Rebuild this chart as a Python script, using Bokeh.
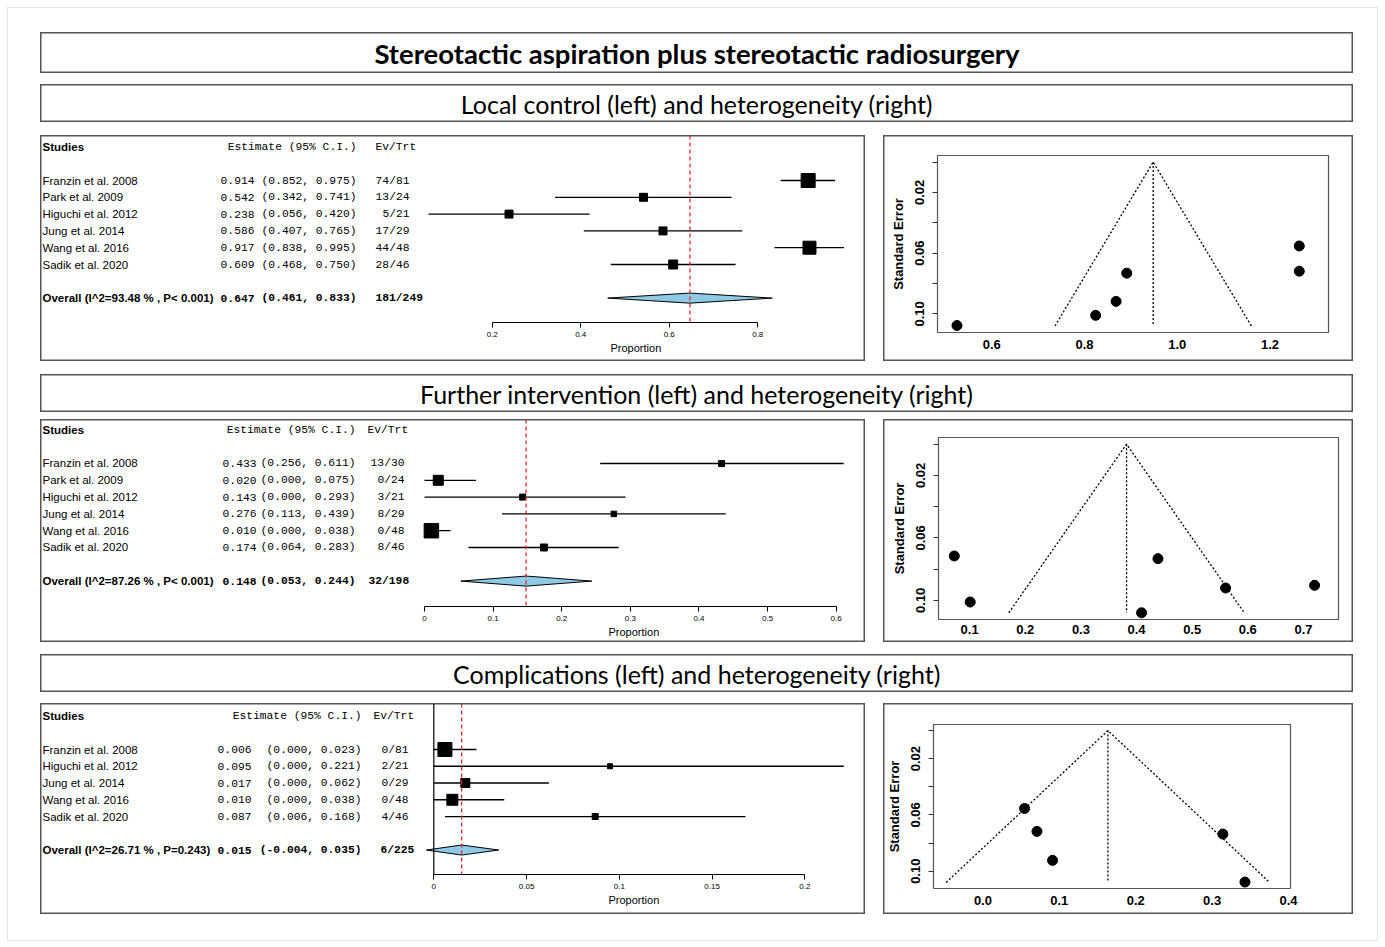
from bokeh.plotting import figure
from bokeh.models import (ColumnDataSource, LabelSet, Title, Range1d, FixedTicker, LinearAxis,
                          Span, CustomJSTickFormatter, Spacer)
from bokeh.layouts import column, row
from bokeh.core.properties import value
from bokeh.embed import file_html
from bokeh.resources import INLINE

# ------------------------------------------------------------------ data
main_title = "Stereotactic aspiration plus stereotactic radiosurgery"
section_titles = ["Local control (left) and heterogeneity (right)",
                  "Further intervention (left) and heterogeneity (right)",
                  "Complications (left) and heterogeneity (right)"]

# Panel 1 - local control
studies1 = ["Franzin et al. 2008", "Park et al.  2009", "Higuchi et al. 2012",
            "Jung et al. 2014", "Wang et al. 2016", "Sadik et al. 2020"]
est1 = [0.914, 0.542, 0.238, 0.586, 0.917, 0.609]
lo1 = [0.852, 0.342, 0.056, 0.407, 0.838, 0.468]
hi1 = [0.975, 0.741, 0.420, 0.765, 0.995, 0.750]
ev1 = ["74/81", "13/24", "5/21", "17/29", "44/48", "28/46"]
weight1 = [14, 8, 8, 8, 13, 9]
overall_label1 = "Overall (I^2=93.48 % , P< 0.001)"
overall1 = (0.647, 0.461, 0.833)
overall_ev1 = "181/249"
ticks1 = [0.2, 0.4, 0.6, 0.8]

# Panel 2 - further intervention
studies2 = ["Franzin et al. 2008", "Park et al.  2009", "Higuchi et al. 2012",
            "Jung et al. 2014", "Wang et al. 2016", "Sadik et al. 2020"]
est2 = [0.433, 0.020, 0.143, 0.276, 0.010, 0.174]
lo2 = [0.256, 0.000, 0.000, 0.113, 0.000, 0.064]
hi2 = [0.611, 0.075, 0.293, 0.439, 0.038, 0.283]
ev2 = ["13/30", "0/24", "3/21", "8/29", "0/48", "8/46"]
weight2 = [6, 10, 6, 5.5, 14.5, 7]
overall_label2 = "Overall (I^2=87.26 % , P< 0.001)"
overall2 = (0.148, 0.053, 0.244)
overall_ev2 = "32/198"
ticks2 = [0, 0.1, 0.2, 0.3, 0.4, 0.5, 0.6]

# Panel 3 - complications
studies3 = ["Franzin et al. 2008", "Higuchi et al. 2012", "Jung et al. 2014",
            "Wang et al. 2016", "Sadik et al. 2020"]
est3 = [0.006, 0.095, 0.017, 0.010, 0.087]
lo3 = [0.000, 0.000, 0.000, 0.000, 0.006]
hi3 = [0.023, 0.221, 0.062, 0.038, 0.168]
ev3 = ["0/81", "2/21", "0/29", "0/48", "4/46"]
weight3 = [14, 5, 9, 11, 6]
overall_label3 = "Overall (I^2=26.71 % , P=0.243)"
overall3 = (0.015, -0.004, 0.035)
overall_ev3 = "6/225"
ticks3 = [0, 0.05, 0.1, 0.15, 0.2]
null_line3 = 0.0

# Funnel plots (effect, standard error)
fx1 = [0.525, 0.824, 0.868, 0.891, 1.263, 1.263]
fse1 = [0.1077, 0.101, 0.0918, 0.0732, 0.0553, 0.0719]
fcenter1, fsemax1 = 0.948, 0.108
fxticks1 = [0.6, 0.8, 1.0, 1.2]

fx2 = [0.0724, 0.101, 0.409, 0.4385, 0.56, 0.72]
fse2 = [0.0716, 0.1011, 0.108, 0.0733, 0.0921, 0.0904]
fcenter2, fsemax2 = 0.382, 0.108
fxticks2 = [0.1, 0.2, 0.3, 0.4, 0.5, 0.6, 0.7]

fx3 = [0.0545, 0.0707, 0.0911, 0.3141, 0.343]
fse3 = [0.0554, 0.0717, 0.0923, 0.0736, 0.1077]
fcenter3, fsemax3 = 0.1636, 0.108
fxticks3 = [0.0, 0.1, 0.2, 0.3, 0.4]

se_major = [0.02, 0.06, 0.10]
se_minor = [0.0, 0.04, 0.08]

# ------------------------------------------------------------------ styles
BOX = {"box-shadow": "inset 0 0 0 1.5px #555555"}
SANS = "Liberation Sans"
MONO = "Liberation Mono"
TITLE_FONT = "Lato"
FULL_W = 1313


def base_fig(w, h, xr, yr, **kw):
    p = figure(width=w, height=h, x_range=Range1d(*xr), y_range=Range1d(*yr),
               x_axis_location=None, y_axis_location=None, title=None,
               toolbar_location=None, output_backend="svg", styles=BOX,
               border_fill_color=None, background_fill_color=None,
               frame_align=False, **kw)
    p.xgrid.visible = False
    p.ygrid.visible = False
    return p


def title_box(text, h, size, bold):
    p = base_fig(FULL_W, h, (0, 1), (0, 1), min_border=0, outline_line_color=None)
    p.text(x=[0.5], y=[0.5], text=[text], text_align="center", text_baseline="middle",
           text_font=value(TITLE_FONT), text_font_size=size,
           text_font_style="bold" if bold else "normal", text_color="black")
    return p


def labels(p, x, ys, texts, align, font, size, style="normal"):
    src = ColumnDataSource(dict(y=ys, text=texts))
    p.add_layout(LabelSet(x=x, y="y", x_units="screen", y_units="data", text="text",
                          source=src, text_align=align, text_baseline="middle",
                          text_font=value(font), text_font_size=size,
                          text_font_style=style, text_color="black"))


def forest(h, frame_h, xr, yr, cols, studies, est, lo, hi, ev, weight,
           ov_label, ov, ov_ev, ticks, xlab_left, null_line=None):
    p = base_fig(825, h, xr, yr, min_border_left=0, min_border_right=0,
                 min_border_top=0, min_border_bottom=h - frame_h,
                 outline_line_color=None)
    n = len(studies)
    rows = list(range(1, n + 1))
    hdr, ovr = -1, n + 2
    name_x, est_r, ci_r, ev_r, ovev_l, hdr_ev_l = cols

    # columns of text
    labels(p, name_x, [hdr], ["Studies"], "left", SANS, "11.5px", "bold")
    labels(p, ci_r, [hdr], ["Estimate (95% C.I.)"], "right", MONO, "11.3px")
    labels(p, hdr_ev_l, [hdr], ["Ev/Trt"], "left", MONO, "11.3px")
    labels(p, name_x, rows, studies, "left", SANS, "11.5px")
    labels(p, est_r, rows, [f"{e:.3f}" for e in est], "right", MONO, "11.3px")
    labels(p, ci_r, rows, [f"({a:.3f}, {b:.3f})" for a, b in zip(lo, hi)], "right", MONO, "11.3px")
    labels(p, ev_r, rows, ev, "right", MONO, "11.3px")
    labels(p, name_x, [ovr], [ov_label], "left", SANS, "11.5px", "bold")
    labels(p, est_r, [ovr], [f"{ov[0]:.3f}"], "right", MONO, "11.3px", "bold")
    labels(p, ci_r, [ovr], [f"({ov[1]:.3f}, {ov[2]:.3f})"], "right", MONO, "11.3px", "bold")
    labels(p, ovev_l, [ovr], [ov_ev], "left", MONO, "11.3px", "bold")

    if null_line is not None:
        p.add_layout(Span(location=null_line, dimension="height", line_color="black",
                          line_width=1.2))
    p.add_layout(Span(location=ov[0], dimension="height", line_color="#e3262b",
                      line_dash="4 3", line_width=1.3))

    p.segment(x0=lo, y0=rows, x1=hi, y1=rows, line_color="black", line_width=1.3)
    p.scatter(x=est, y=rows, marker="square", size=weight, fill_color="black",
              line_color="black")
    dh = 0.3
    p.patch(x=[ov[1], ov[0], ov[2], ov[0]], y=[ovr, ovr - dh, ovr, ovr + dh],
            fill_color="#8ec9e6", line_color="black", line_width=1)

    ax = LinearAxis(ticker=FixedTicker(ticks=ticks),
                    formatter=CustomJSTickFormatter(code="return tick.toString();"),
                    bounds=(ticks[0], ticks[-1]))
    ax.axis_line_color = "black"
    ax.major_tick_line_color = "black"
    ax.major_tick_out = 5
    ax.major_tick_in = 0
    ax.minor_tick_line_color = None
    ax.major_label_text_font = SANS
    ax.major_label_text_font_size = "8px"
    ax.major_label_text_color = "black"
    ax.major_label_standoff = 4
    p.add_layout(ax, "below")
    p.add_layout(Title(text="Proportion", align="left", offset=xlab_left, standoff=0,
                       text_font=SANS, text_font_size="11px", text_font_style="normal",
                       text_color="black"), "below")
    return p


def funnel(h, borders, xr, x, se, center, semax, xticks, x_standoff):
    l, r, t, b = borders
    p = base_fig(470, h, xr, (0.1123, -0.0043), min_border_left=l, min_border_right=r,
                 min_border_top=t, min_border_bottom=b,
                 outline_line_color="#555555", outline_line_width=1.2)
    xa = LinearAxis(ticker=FixedTicker(ticks=xticks),
                    formatter=CustomJSTickFormatter(code="return tick.toFixed(1);"))
    xa.axis_line_color = None
    xa.major_tick_out = 0
    xa.major_tick_in = 0
    xa.minor_tick_line_color = None
    xa.major_label_standoff = x_standoff
    ya = LinearAxis(ticker=FixedTicker(ticks=se_major, minor_ticks=se_minor),
                    formatter=CustomJSTickFormatter(code="return tick.toFixed(2);"),
                    axis_label="Standard Error")
    ya.axis_line_color = None
    ya.major_tick_out = 5
    ya.major_tick_in = 0
    ya.minor_tick_out = 5
    ya.minor_tick_in = 0
    ya.major_tick_line_color = "#333333"
    ya.minor_tick_line_color = "#333333"
    ya.major_label_orientation = "vertical"
    ya.major_label_standoff = 8
    ya.axis_label_standoff = 7
    for a in (xa, ya):
        a.major_label_text_font = SANS
        a.major_label_text_font_size = "13px"
        a.major_label_text_font_style = "bold"
        a.major_label_text_color = "black"
        a.axis_label_text_font = SANS
        a.axis_label_text_font_size = "13px"
        a.axis_label_text_font_style = "bold"
        a.axis_label_text_color = "black"
    p.add_layout(xa, "below")
    p.add_layout(ya, "left")

    z = 1.96
    p.line(x=[center - z * semax, center, center + z * semax], y=[semax, 0, semax],
           line_color="black", line_dash="2 2", line_width=1.3)
    p.segment(x0=[center], y0=[0], x1=[center], y1=[semax], line_color="black",
              line_dash="2 2", line_width=1.3)
    p.scatter(x=x, y=se, size=10, marker="circle", fill_color="black", line_color="black")
    return p


# ------------------------------------------------------------------ panels
f1 = forest(226, 187, (-0.8208, 1.0436), (9.452, -1.679), (2, 214, 316, 369, 335, 335),
            studies1, est1, lo1, hi1, ev1, weight1, overall_label1, overall1, overall_ev1,
            ticks1, 570)
f2 = forest(223, 187, (-0.5598, 0.6428), (9.512, -1.619), (2, 216, 315, 364, 328, 327),
            studies2, est2, lo2, hi2, ev2, weight2, overall_label2, overall2, overall_ev2,
            ticks2, 568)
f3 = forest(211, 171, (-0.2120, 0.2327), (8.46, -1.746), (2, 211, 321, 368, 340, 333),
            studies3, est3, lo3, hi3, ev3, weight3, overall_label3, overall3, overall_ev3,
            ticks3, 568, null_line=null_line3)

g1 = funnel(226, (54, 25, 20, 29), (0.483, 1.326), fx1, fse1, fcenter1, fsemax1, fxticks1, 7)
g2 = funnel(223, (55, 15, 18, 23), (0.044, 0.763), fx2, fse2, fcenter2, fsemax2, fxticks2, 5)
g3 = funnel(211, (50, 63, 21, 26), (-0.0647, 0.4026), fx3, fse3, fcenter3, fsemax3, fxticks3, 7)

t0 = title_box(main_title, 41, "27.5px", True)
t1 = title_box(section_titles[0], 38, "25px", False)
t2 = title_box(section_titles[1], 38, "25px", False)
t3 = title_box(section_titles[2], 38, "25px", False)

inner = column(
    t0, Spacer(height=11),
    t1, Spacer(height=13),
    row(f1, Spacer(width=18), g1), Spacer(height=13),
    t2, Spacer(height=7),
    row(f2, Spacer(width=18), g2), Spacer(height=12),
    t3, Spacer(height=11),
    row(f3, Spacer(width=18), g3),
)
framed = column(Spacer(height=24), row(Spacer(width=32), inner, Spacer(width=24)),
                Spacer(height=26), styles={"outline": "1px solid #e4e4e4"})
root = column(Spacer(height=8), row(Spacer(width=8), framed))

open("out.html", "w").write(file_html(root, INLINE))
